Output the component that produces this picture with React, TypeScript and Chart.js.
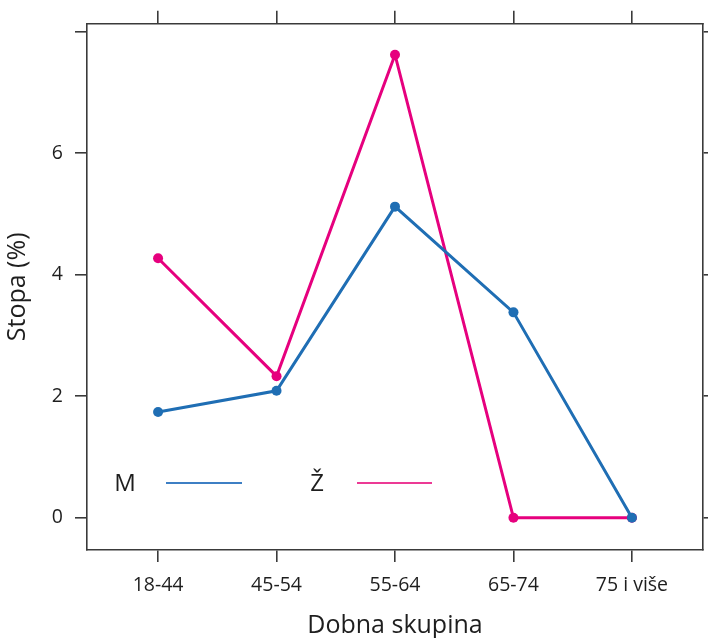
import React, { useEffect, useRef } from "react";
import { Chart, registerables } from "chart.js";

Chart.register(...registerables);

const categories = ["18-44", "45-54", "55-64", "65-74", "75 i više"];
const seriesM = [1.74, 2.09, 5.12, 3.38, 0];
const seriesZ = [4.27, 2.33, 7.62, 0, 0];
const yTicks = [0, 2, 4, 6, 8];
const yTickLabels = ["0", "2", "4", "6", ""];
const legendLabels = ["M", "Ž"];

const BLUE = "#1f6eb4";
const PINK = "#e6007e";
const AXIS = "#3a3a3a";
const FONT = "'Open Sans', 'Noto Sans', sans-serif";

const legendPlugin = {
  id: "lattLegend",
  afterDraw(chart: any) {
    const ctx = chart.ctx;
    const y = 483;
    const items = [
      { label: legendLabels[0], tx: 125, x0: 166, x1: 242, color: "#3d7fc4" },
      { label: legendLabels[1], tx: 317, x0: 357, x1: 432, color: "#ec3a95" },
    ];
    ctx.save();
    ctx.font = `24px ${FONT}`;
    ctx.fillStyle = "#1e1e1e";
    ctx.textAlign = "center";
    ctx.textBaseline = "middle";
    items.forEach((it) => {
      ctx.fillText(it.label, it.tx, y + 1);
      ctx.strokeStyle = it.color;
      ctx.lineWidth = 2;
      ctx.beginPath();
      ctx.moveTo(it.x0, y);
      ctx.lineTo(it.x1, y);
      ctx.stroke();
    });
    ctx.restore();
  },
};

export default function App() {
  const ref = useRef<HTMLCanvasElement>(null);
  useEffect(() => {
    if (!ref.current) return;
    const xTickSet = (s: any) => {
      s.ticks = categories.map((_, i) => ({ value: i }));
    };
    const yTickSet = (s: any) => {
      s.ticks = yTicks.map((v) => ({ value: v }));
    };
    const border = { display: true, color: AXIS, width: 1.6 };
    const chart = new Chart(ref.current, {
      type: "line",
      data: {
        datasets: [
          {
            label: legendLabels[0],
            data: seriesM.map((v, i) => ({ x: i, y: v })),
            borderColor: BLUE,
            backgroundColor: BLUE,
            pointBackgroundColor: BLUE,
            borderWidth: 3,
            pointRadius: 5,
            pointBorderWidth: 0,
            tension: 0,
          },
          {
            label: legendLabels[1],
            data: seriesZ.map((v, i) => ({ x: i, y: v })),
            borderColor: PINK,
            backgroundColor: PINK,
            pointBackgroundColor: PINK,
            borderWidth: 3,
            pointRadius: 5,
            pointBorderWidth: 0,
            tension: 0,
          },
        ],
      },
      options: {
        responsive: false,
        animation: false,
        layout: { padding: { top: 9, left: 0, right: 0, bottom: 0 } },
        plugins: { legend: { display: false }, tooltip: { enabled: false } },
        scales: {
          x: {
            type: "linear",
            position: "bottom",
            min: -0.6,
            max: 4.6,
            afterBuildTicks: xTickSet,
            afterFit: (s: any) => {
              s.height = 88;
            },
            ticks: {
              callback: (v: any) => categories[v] ?? "",
              font: { family: FONT, size: 19.5 },
              color: "#1e1e1e",
              padding: 12,
              maxRotation: 0,
              autoSkip: false,
            },
            grid: {
              drawOnChartArea: false,
              drawTicks: true,
              tickLength: 12,
              color: AXIS,
              lineWidth: 1.6,
            },
            border,
            title: {
              display: true,
              text: "Dobna skupina",
              font: { family: FONT, size: 25 },
              color: "#1e1e1e",
              padding: { top: 0, bottom: -3 },
            },
          },
          x2: {
            type: "linear",
            position: "top",
            min: -0.6,
            max: 4.6,
            afterBuildTicks: xTickSet,
            afterFit: (s: any) => {
              s.height = 13;
            },
            ticks: { display: false },
            grid: {
              drawOnChartArea: false,
              drawTicks: true,
              tickLength: 13,
              color: AXIS,
              lineWidth: 1.6,
            },
            border,
          },
          y: {
            type: "linear",
            position: "left",
            min: -0.53,
            max: 8.13,
            afterBuildTicks: yTickSet,
            afterFit: (s: any) => {
              s.width = 87;
            },
            ticks: {
              callback: (v: any) => yTickLabels[yTicks.indexOf(v)] ?? "",
              font: { family: FONT, size: 19.5 },
              color: "#1e1e1e",
              padding: 12,
            },
            grid: {
              drawOnChartArea: false,
              drawTicks: true,
              tickLength: 12,
              color: AXIS,
              lineWidth: 1.6,
            },
            border,
            title: {
              display: true,
              text: "Stopa (%)",
              font: { family: FONT, size: 25 },
              color: "#1e1e1e",
              padding: { top: 3, bottom: 0 },
            },
          },
          y2: {
            type: "linear",
            position: "right",
            min: -0.53,
            max: 8.13,
            afterBuildTicks: yTickSet,
            afterFit: (s: any) => {
              s.width = 5;
            },
            ticks: { display: false },
            grid: {
              drawOnChartArea: false,
              drawTicks: true,
              tickLength: 5,
              color: AXIS,
              lineWidth: 1.6,
            },
            border,
          },
        },
      },
      plugins: [legendPlugin],
    } as any);
    return () => chart.destroy();
  }, []);
  return (
    <div style={{ position: "absolute", left: 0, top: 0, width: 708, height: 638, background: "#fff" }}>
      <canvas ref={ref} width={708} height={638} style={{ display: "block" }} />
    </div>
  );
}
